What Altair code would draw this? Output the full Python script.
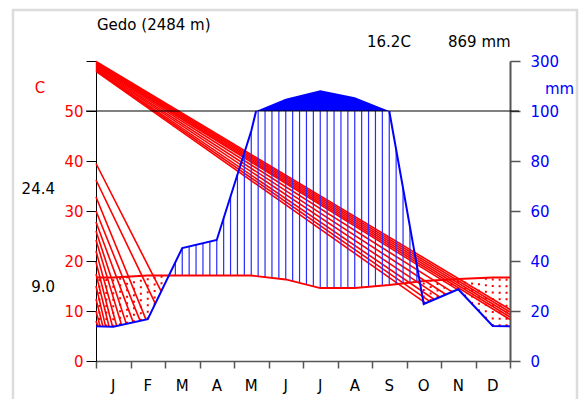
import altair as alt
import numpy as np
import pandas as pd

# ---------------- data ----------------
months = ["J", "F", "M", "A", "M", "J", "J", "A", "S", "O", "N", "D"]
temp = [16.7, 17.1, 17.1, 17.1, 17.1, 16.3, 14.6, 14.6, 15.2, 16.0, 16.4, 16.7]   # deg C
prec = [13.7, 16.7, 45.2, 48.4, 92.0, 149.0, 183.5, 154.8, 100.0, 22.8, 28.7, 14.0]  # mm

station = "Gedo (2484 m)"
annual_temp = "16.2C"
annual_prec = "869 mm"
side_upper = "24.4"
side_lower = "9.0"

temp_ticks = [0, 10, 20, 30, 40, 50, 60]
prec_tick_labels = ["0", "20", "40", "60", "80", "100", "300"]

# diagonal red lines (left fan): start temperature on left edge, end month position on rain curve
fan_left_start = [39.5, 36.2, 32.8, 30.0, 27.8, 26.0, 24.2, 22.0, 19.8, 17.4, 15.0, 12.4, 10.0, 8.0]
fan_left_end = [1.89, 1.72, 1.45, 1.28, 1.08, 0.88, 0.74, 0.60, 0.48, 0.38, 0.28, 0.20, 0.12, 0.06]
# diagonal red lines (big fan): start temperature at left edge, temperature aimed at on right edge
fan_big_start = [59.9, 59.72, 59.54, 59.36, 59.18, 59.0, 58.82, 58.64, 58.46, 58.28, 58.1, 57.92]
fan_big_end = [10.3, 9.8, 9.3, 8.8, 8.3, 7.8, 6.5, 5.0, 3.5, 2.0, 0.8, -0.3]

# ---------------- derived curves ----------------
xpad = [0.0] + [i + 0.5 for i in range(12)] + [12.0]
t_edge = (temp[0] + temp[-1]) / 2
p_edge = (prec[0] + prec[-1]) / 2
tpad = [t_edge] + temp + [t_edge]
ppad = [p_edge] + prec + [p_edge]
phalf = [p / 2 for p in ppad]          # rain in the temperature scale (20 mm = 10 C)


def comp(p):
    return p / 2 if p <= 100 else 50 + (p - 100) / 20


# rain line, linear scale, cut at 100 mm
segs = []
cur = []
for i in range(len(xpad)):
    if i > 0:
        x0, y0, x1, y1 = xpad[i - 1], phalf[i - 1], xpad[i], phalf[i]
        if (y0 <= 50) != (y1 <= 50):
            t = (50 - y0) / (y1 - y0)
            cur.append((x0 + t * (x1 - x0), 50.0))
            if y1 > 50:
                segs.append(cur)
                cur = []
    if phalf[i] <= 50:
        cur.append((xpad[i], phalf[i]))
if cur:
    segs.append(cur)
rain_rows = []
for s, seg in enumerate(segs):
    for k, (x, y) in enumerate(seg):
        rain_rows.append({"x": x, "y": y, "seg": s, "k": k})
rain_df = pd.DataFrame(rain_rows)

# solid area above 100 mm (compressed scale)
wet_rows = []
for i in range(1, len(xpad)):
    x0, y0, x1, y1 = xpad[i - 1], phalf[i - 1], xpad[i], phalf[i]
    if y0 <= 50 < y1:
        t = (50 - y0) / (y1 - y0)
        wet_rows.append({"x": x0 + t * (x1 - x0), "y": 50.0})
    if ppad[i] >= 100 and (ppad[i] > 100 or ppad[i - 1] > 100):
        wet_rows.append({"x": x1, "y": comp(ppad[i])})
wet_df = pd.DataFrame(wet_rows)

temp_df = pd.DataFrame({"x": xpad, "y": tpad, "k": range(len(xpad))})

# vertical hatching
xv = np.arange(0.1, 12.0, 0.2)
tv = np.interp(xv, xpad, tpad)
pv = np.interp(xv, xpad, phalf)
humid = pv > tv
hum_df = pd.DataFrame({"x": xv[humid], "y": tv[humid], "y2": np.minimum(pv[humid], 50)})
dry_df = pd.DataFrame({"x": xv[~humid], "y": pv[~humid], "y2": tv[~humid]})

# diagonal lines
fan_rows = []
for s, e in zip(fan_left_start, fan_left_end):
    fan_rows.append({"x": 0.0, "y": s, "x2": e, "y2": float(np.interp(e, xpad, phalf))})
grid = np.linspace(8.5, 12.0, 3501)
pg = np.interp(grid, xpad, phalf)
for s, e in zip(fan_big_start, fan_big_end):
    ly = s + (e - s) * grid / 12.0
    above = np.where(ly > pg)[0]
    end = (12.0, e)
    if len(above):
        j0 = above[0]
        below = np.where(ly[j0:] <= pg[j0:])[0]
        if len(below):
            j = j0 + below[0]
            end = (float(grid[j]), float(ly[j]))
    fan_rows.append({"x": 0.0, "y": s, "x2": end[0], "y2": end[1]})
fan_df = pd.DataFrame(fan_rows)

month_df = pd.DataFrame({"x": [i + 0.5 for i in range(12)], "m": months})
one = pd.DataFrame({"a": [0]})

# ---------------- chart ----------------
RED = "#ff0000"
BLUE = "#0000ff"
FONT = "DejaVu Sans"
xs = alt.Scale(domain=[0, 12], nice=False, zero=False)
ys = alt.Scale(domain=[0, 60], nice=False, zero=False)


def X(f, axis=None):
    return alt.X(f, type="quantitative", scale=xs, axis=axis)


def Y(f, axis=None):
    return alt.Y(f, type="quantitative", scale=ys, axis=axis)


frame = alt.Chart(one).mark_rect(filled=False, stroke="#dcdcdc", strokeWidth=2.5).encode(
    x=alt.value(-83), x2=alt.value(481), y=alt.value(-51), y2=alt.value(360))

line50 = alt.Chart(one).mark_rule(color="black", strokeWidth=1).encode(
    x=alt.value(-10), x2=alt.value(423), y=alt.Y("v:Q", scale=ys, axis=None)
).transform_calculate(v="50")

fans = alt.Chart(fan_df).mark_rule(color=RED, strokeWidth=1.6).encode(
    x=X("x"), x2="x2", y=Y("y"), y2="y2")

hum = alt.Chart(hum_df).mark_rule(color="#2a2aff", strokeWidth=1.2).encode(
    x=X("x"), y=Y("y"), y2="y2")

dry = alt.Chart(dry_df).mark_rule(color=RED, strokeWidth=2, strokeDash=[2, 4.5]).encode(
    x=X("x"), y=Y("y"), y2="y2")

wet = alt.Chart(wet_df).mark_area(color=BLUE, opacity=1).encode(
    x=X("x"), y=Y("y"), y2=alt.datum(50))

left_axis = alt.Axis(orient="left", values=temp_ticks, title=None, grid=False,
                     labelExpr="datum.value == 60 ? '' : datum.label",
                     labelColor=RED, labelFont=FONT, labelFontSize=15, labelPadding=3,
                     tickSize=10, tickColor="black", domainColor="black", domainWidth=1)
bottom_axis = alt.Axis(orient="bottom", values=list(range(13)), labels=False, title=None,
                       grid=False, tickSize=7, tickColor="#555555", domainColor="#555555",
                       domainWidth=1.5, tickWidth=1.5)
lbl = "[" + ",".join("'%s'" % s for s in prec_tick_labels) + "][datum.value / 10]"
right_axis = alt.Axis(orient="right", values=temp_ticks, title=None, grid=False,
                      labelExpr=lbl, labelColor=BLUE, labelFont=FONT, labelFontSize=15,
                      labelPadding=10, tickSize=10, tickColor="#555555", tickWidth=1.5,
                      domainColor="#555555", domainWidth=2)

tline = alt.Chart(temp_df).mark_line(color=RED, strokeWidth=1.8).encode(
    x=X("x", bottom_axis), y=Y("y", left_axis), order="k")

rline = alt.Chart(rain_df).mark_line(color=BLUE, strokeWidth=2).encode(
    x=X("x"), y=Y("y", right_axis), detail="seg:N", order="k")


def txt(s, x, y, color="black", align="left", size=15):
    return alt.Chart(one).mark_text(text=s, color=color, align=align, baseline="middle",
                                    font=FONT, fontSize=size).encode(
        x=alt.value(x), y=alt.value(y))


mlabels = alt.Chart(month_df).mark_text(color="black", font=FONT, fontSize=15,
                                        baseline="middle").encode(
    x=X("x"), y=alt.value(325), text="m:N")

chart = alt.layer(
    frame, fans, hum, dry, wet, line50, tline, rline, mlabels,
    txt(station, 1, -36),
    txt(annual_temp, 271, -19),
    txt(annual_prec, 352, -19),
    txt(side_upper, -41, 128, align="right"),
    txt(side_lower, -41, 226, align="right"),
    txt("C", -56, 27, color=RED, align="center"),
    txt("mm", 449, 28, color=BLUE),
).resolve_axis(x="independent", y="independent").properties(
    width=414, height=300,
    autosize=alt.AutoSizeParams(type="none"),
    padding={"left": 96, "top": 61, "right": 69, "bottom": 38},
    background="white",
).configure_view(stroke=None)

chart.save("out.html", embed_options={"renderer": "svg", "actions": False})
